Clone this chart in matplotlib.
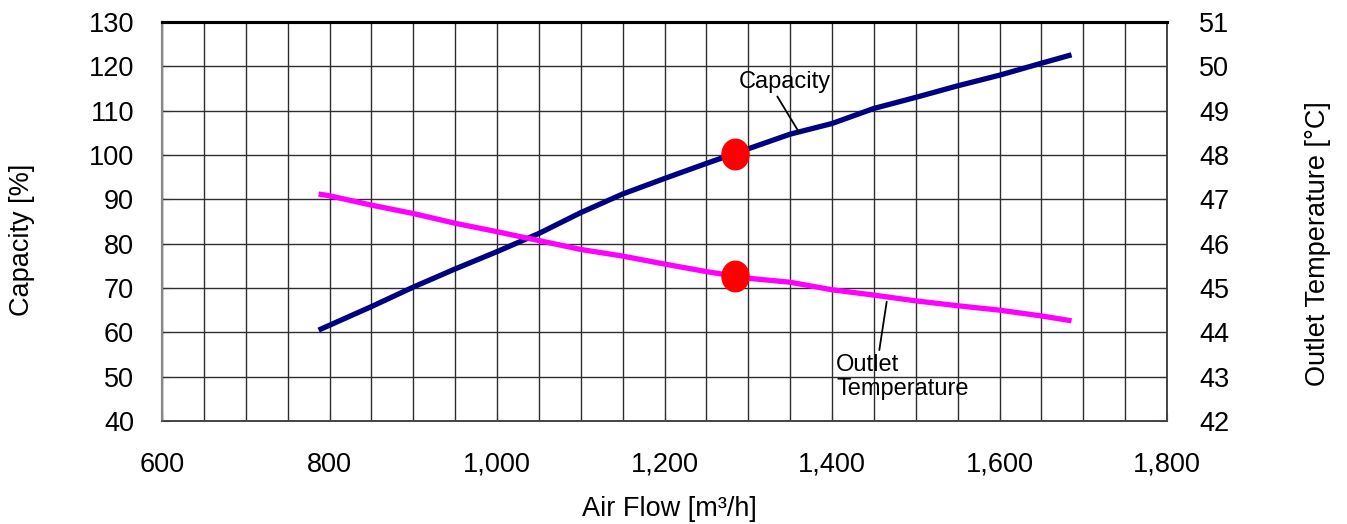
import matplotlib
matplotlib.use("Agg")
import matplotlib.pyplot as plt
import numpy as np
from matplotlib.path import Path
from matplotlib.ticker import MultipleLocator, FuncFormatter

plt.rcParams['font.family'] = ['Liberation Sans', 'DejaVu Sans']

air_flow = [787, 800, 850, 900, 950, 1000, 1050, 1100, 1150, 1200,
            1250, 1300, 1350, 1400, 1450, 1500, 1550, 1600, 1650, 1686]
capacity = [60.5, 61.6, 65.8, 70.2, 74.3, 78.2, 82.3, 87.0, 91.2, 94.7,
            98.1, 101.4, 104.7, 107.1, 110.5, 113.0, 115.6, 118.0, 120.7, 122.6]
outlet_temp = [47.12, 47.08, 46.87, 46.68, 46.46, 46.27, 46.07, 45.87, 45.72, 45.54,
               45.37, 45.22, 45.13, 44.96, 44.84, 44.71, 44.60, 44.50, 44.37, 44.26]
design_flow = 1284
design_capacity = 100.3
design_temp = 45.28

fig = plt.figure(figsize=(13.47, 5.24), dpi=100)
ax = fig.add_axes([162/1347, 1-421/524, (1167-162)/1347, (421-22)/524])
ax2 = ax.twinx()

FS = 19.5
ax.set_xlim(600, 1800)
ax.set_ylim(40, 130)
ax2.set_ylim(42, 51)

ax.xaxis.set_major_locator(MultipleLocator(200))
ax.xaxis.set_minor_locator(MultipleLocator(50))
ax.yaxis.set_major_locator(MultipleLocator(10))
ax2.yaxis.set_major_locator(MultipleLocator(1))
ax.xaxis.set_major_formatter(FuncFormatter(lambda v, p: f"{int(v):,}"))

ax.grid(True, which='both', axis='x', color='#2e2e2e', lw=1.0)
ax.grid(True, which='major', axis='y', color='#2e2e2e', lw=1.0)
ax.set_axisbelow(True)

for a in (ax, ax2):
    a.tick_params(axis='both', which='both', direction='in', labelsize=FS, length=6, color='#333')
    a.tick_params(axis='x', which='minor', length=0)
    for s in a.spines.values():
        s.set_color('#444')
        s.set_linewidth(1.2)
    a.spines['left'].set_color('#888')
    a.spines['left'].set_linewidth(1.5)
    a.spines['top'].set_color('black')
    a.spines['top'].set_linewidth(2.2)
ax.tick_params(axis='x', pad=22)
ax.tick_params(axis='y', pad=20)
ax2.tick_params(axis='y', pad=23)

ax.plot(air_flow, capacity, color='#000080', lw=3.8, solid_capstyle='butt', zorder=3)
ax2.plot(air_flow, outlet_temp, color='#ff00ff', lw=3.8, solid_capstyle='butt', zorder=3)

t = np.linspace(0, 2*np.pi, 80)
ell = Path(np.column_stack([np.cos(t), 1.13*np.sin(t)]))
ax.plot([design_flow], [design_capacity], marker=ell, ms=22, color='#ff0000',
        mec='#ff0000', zorder=5, ls='none')
ax2.plot([design_flow], [design_temp], marker=ell, ms=22, color='#ff0000',
         mec='#ff0000', zorder=5, ls='none')

ax.set_xlabel('Air Flow [m³/h]', fontsize=FS, va='top')
ax.xaxis.set_label_coords(0.505, -0.188)
fig.text(22/1347, 1-240/524, 'Capacity [%]', fontsize=FS, rotation=90,
         ha='center', va='center')
fig.text(1318/1347, 1-244/524, 'Outlet Temperature [°C]', fontsize=FS, rotation=90,
         ha='center', va='center')

AFS = 17
ax.text(1343.6, 115.2, 'Capacity', fontsize=AFS, ha='center', va='baseline', zorder=6)
ax.annotate('', xy=(1361, 105.0), xytext=(1334.7, 113.2),
            arrowprops=dict(arrowstyle='-', color='black', lw=1.3, shrinkA=0, shrinkB=0))
ax.text(1405, 49.9, 'Outlet\nTemperature', fontsize=AFS, ha='left', va='center',
        zorder=6, linespacing=1.15)
ax.annotate('', xy=(1465.3, 66.9), xytext=(1456.5, 56.0),
            arrowprops=dict(arrowstyle='-', color='black', lw=1.3, shrinkA=0, shrinkB=0))

fig.savefig('out.png', dpi=100)
